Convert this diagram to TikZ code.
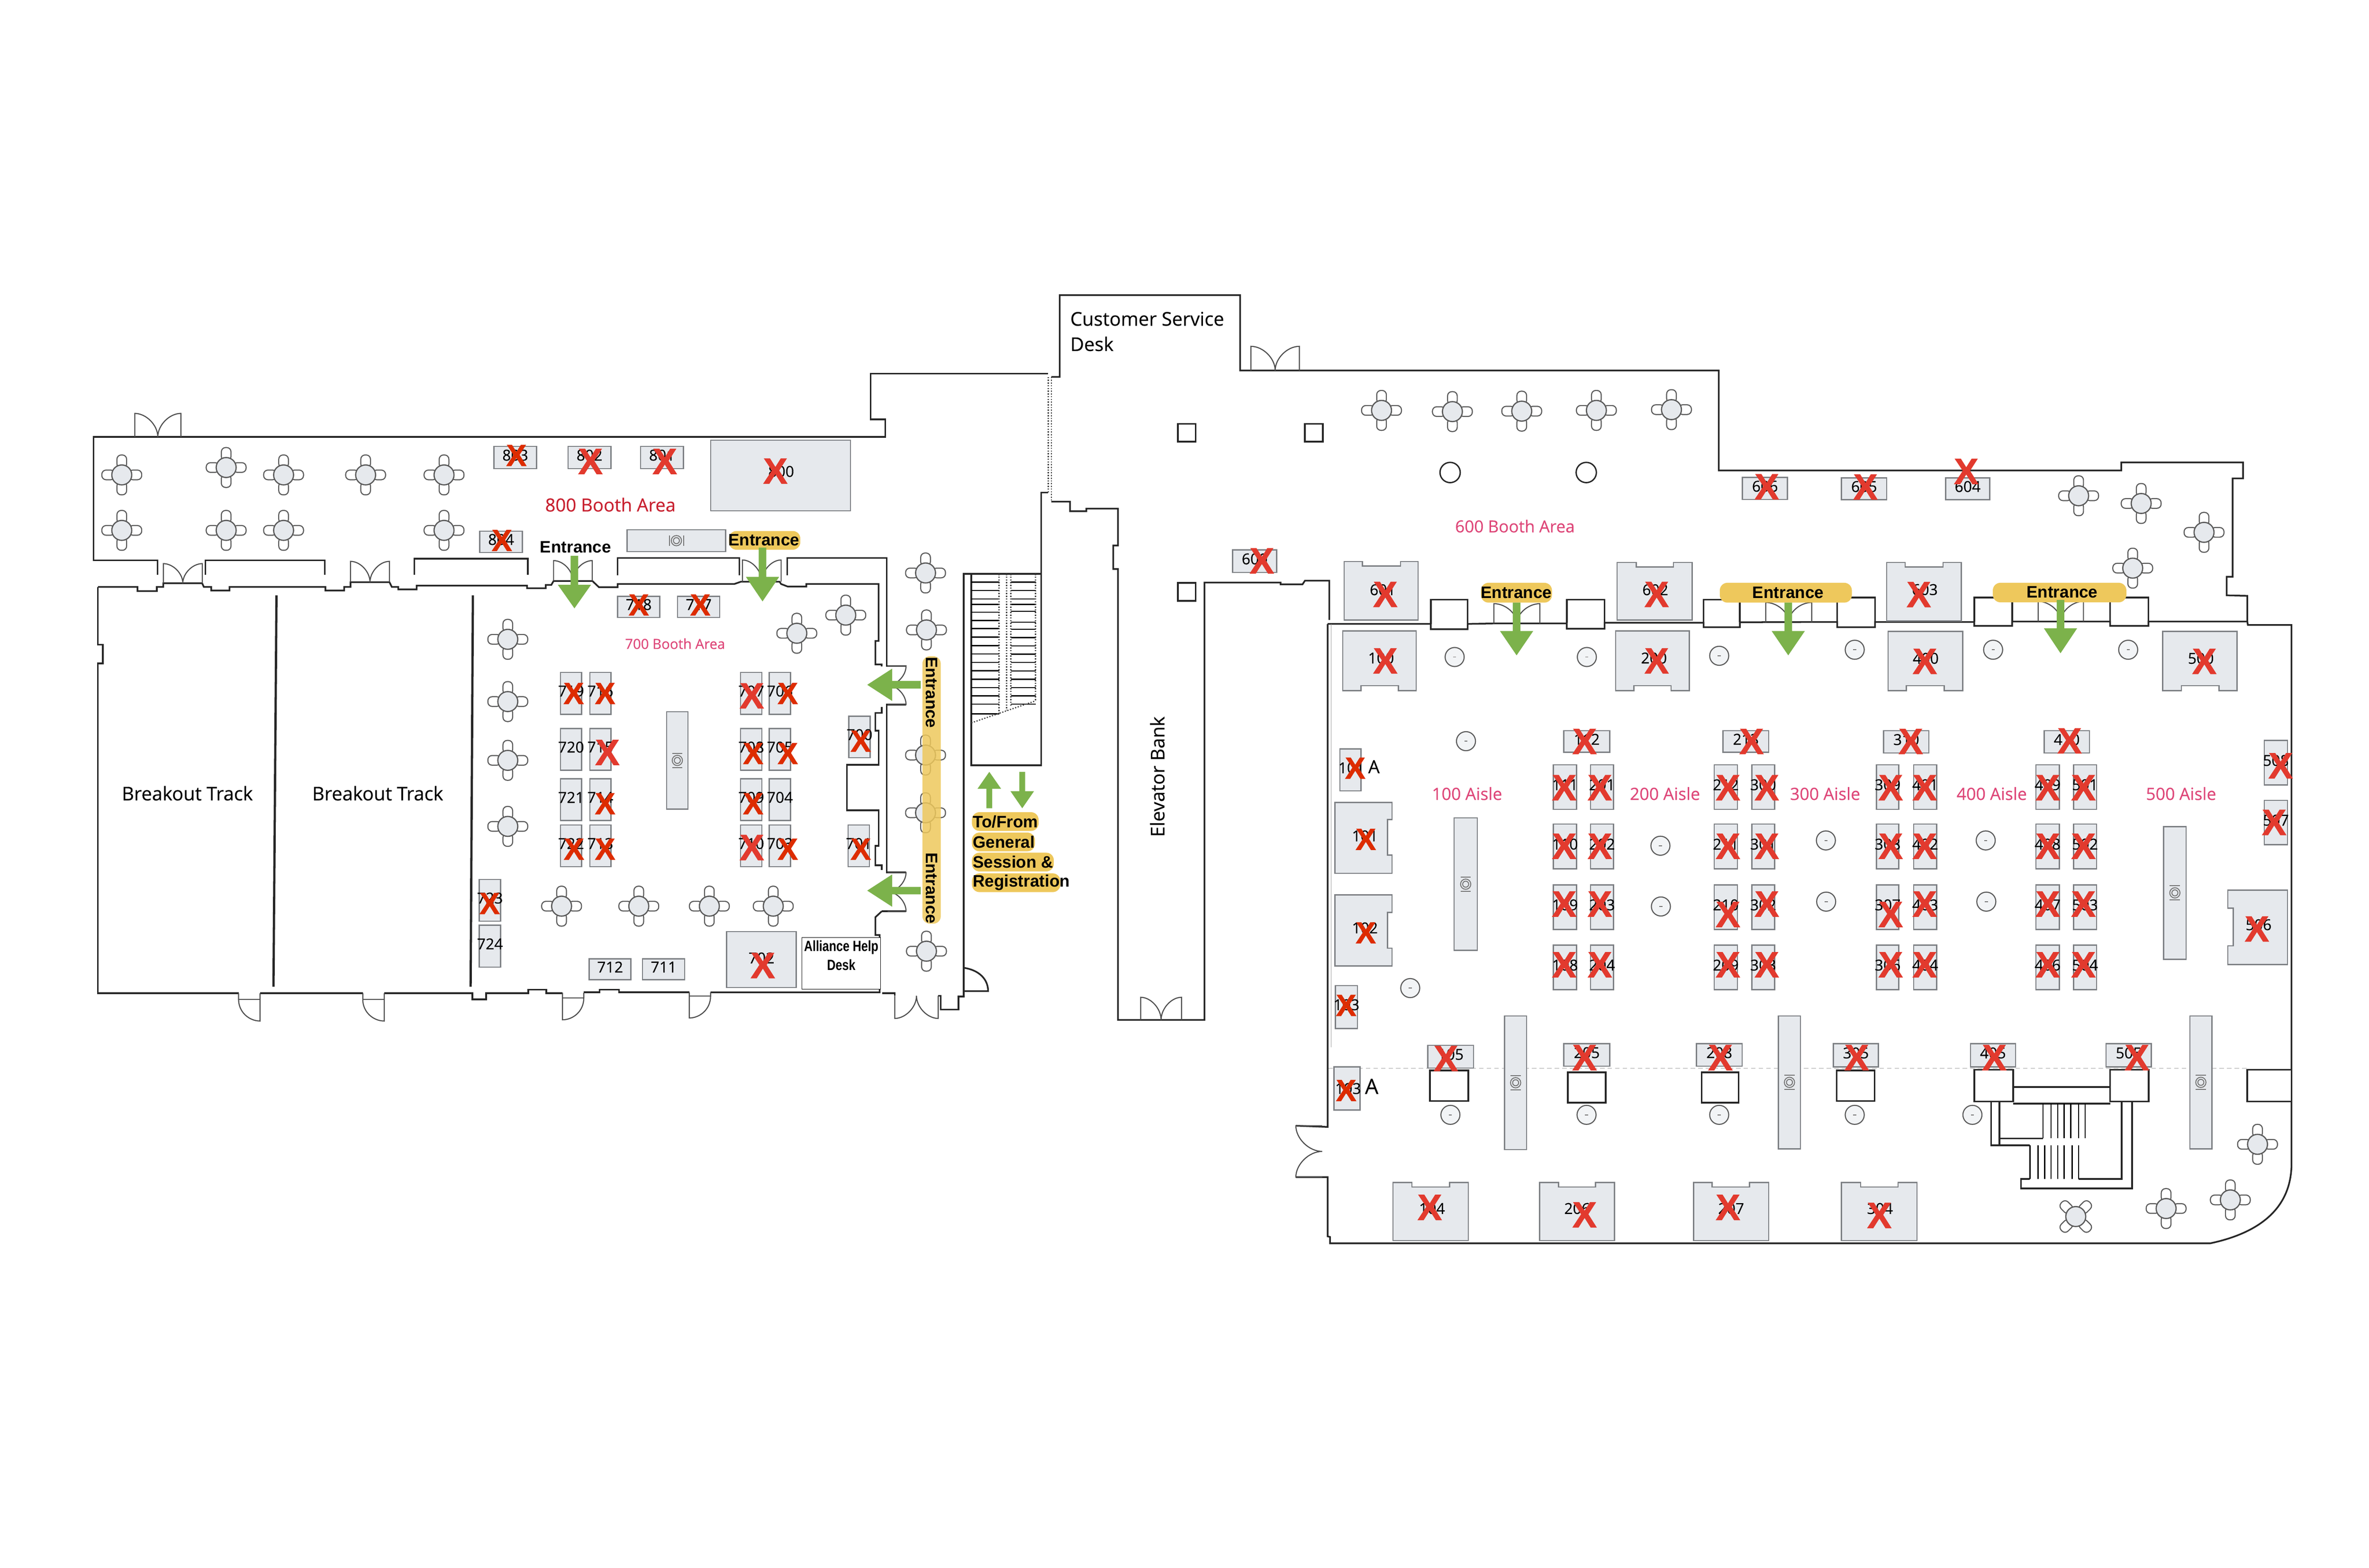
\documentclass[tikz,border=0pt]{standalone}
\usepackage{fontspec}
\setmainfont[FakeBold=0.3]{Open Sans}
\newfontfamily\signfont{Liberation Sans}
\newfontfamily\crossfont[BoldFeatures={FakeBold=1.6}]{Liberation Sans}
\newfontfamily\narrowfont[FakeStretch=0.8]{Liberation Sans}
\definecolor{boothgray}{RGB}{230,233,237}
\definecolor{edgegray}{RGB}{125,128,132}
\definecolor{arrowgreen}{RGB}{124,178,75}
\definecolor{pillyellow}{RGB}{238,200,92}
\definecolor{aislepink}{RGB}{222,70,120}
\definecolor{boothred}{RGB}{200,32,47}
\definecolor{crossred}{RGB}{226,58,46}
\definecolor{crossdark}{RGB}{221,44,0}
\tikzset{
    wallline/.style={draw=black!85, line width=1.1pt},
    thinwall/.style={draw=black!70, line width=0.7pt},
    treadline/.style={draw=black, line width=0.8pt},
    dotline/.style={draw=black!75, line width=0.8pt, densely dotted},
    boothbox/.style={draw=edgegray, fill=boothgray, line width=0.8pt},
    barbox/.style={draw=edgegray, fill=boothgray, line width=0.8pt},
    boothlabel/.style={inner sep=0pt, font=\fontsize{10}{10}\selectfont},
    crosssmall/.style={inner sep=0pt, text=crossdark, font=\crossfont\bfseries\fontsize{20}{20}\selectfont},
    crosslarge/.style={inner sep=0pt, text=crossred, font=\crossfont\bfseries\fontsize{24}{24}\selectfont},
    chairbox/.style={draw=black!65, fill=white, line width=0.7pt, rounded corners=2.8pt},
    tablebox/.style={draw=black!65, fill=boothgray, line width=0.8pt},
    columnbox/.style={draw=black!65, fill=boothgray!50, line width=0.7pt},
    iconline/.style={draw=black!55, line width=0.6pt},
    greenarrow/.style={fill=arrowgreen, draw=none},
    entrancepill/.style={fill=pillyellow, draw=none, rounded corners=5pt},
    signlabel/.style={inner sep=0pt, font=\signfont\bfseries\fontsize{11}{11}\selectfont},
    plainlabel/.style={inner sep=0pt, font=\fontsize{12.5}{12.5}\selectfont},
    aislelabel/.style={inner sep=0pt, text=aislepink, font=\fontsize{11.2}{11.2}\selectfont}
}
% table with four chairs
\newcommand{\tablefour}[3]{%
    \begin{scope}[shift={(#1,#2)}, rotate=#3]
        \foreach \a in {0,90,180,270} {
            \draw[chairbox, rotate=\a] (4.5,-3.2) rectangle (13.2,3.2);
        }
        \draw[tablebox] (0,0) circle (6.6pt);
    \end{scope}}
% plate sign on a buffet bar
\newcommand{\plateicon}[3]{%
    \begin{scope}[shift={(#1,#2)}, rotate=#3]
        \draw[iconline] (-3.4,-4.7) -- (3.4,-4.7) (-3.4,4.7) -- (3.4,4.7);
        \draw[iconline] (0,0) circle (3.4pt) (0,0) circle (2pt);
    \end{scope}}
% x, y of the sill centre, half width, height, turn
\newcommand{\doubledoor}[5]{%
    \draw[thinwall, shift={(#1,#2)}, rotate=#5] (-#3,0) -- (-#3,-#4) .. controls (-0.5*#3,-#4) and (0,-0.5*#4) .. (0,0) .. controls (0,-0.5*#4) and (0.5*#3,-#4) .. (#3,-#4) -- (#3,0);}
% free side x, hinge side x, wall y, sill y, end y
\newcommand{\singledoor}[5]{%
    \draw[thinwall] (#1,#3) -- (#1,#4) .. controls (#1,{#4+0.6*(#5-#4)}) and ({#1+0.5*(#2-#1)},#5) .. (#2,#5) -- (#2,#3);
    \draw[thinwall] (#1,#4) -- (#2,#4);}
\begin{document}
\begin{tikzpicture}[x=1pt, y=-1pt]
    \fill[white] (0,0) rectangle (1568,1037.65);
    \useasboundingbox (0,0) rectangle (1568,1037.65);
    % Dotted axis line
    \draw[draw=black!35, line width=0.4pt, densely dashed] (879,707) -- (1487,707);
    % Walls of the 800 area and lobby
    \draw[wallline] (104.2,380.5) -- (104.2,370.8) -- (62,370.8) -- (62,289.2) -- (586,289.2) -- (586,277.6) -- (576.3,277.6) -- (576.3,247.3) -- (693.8,247.3);
    \draw[wallline] (695.8,249.4) -- (701.4,249.4) -- (701.4,195.3) -- (820.8,195.3) -- (820.8,245.2) -- (1137.6,245.2) -- (1137.6,311.4) -- (1404,311.4) -- (1404,306) -- (1484.6,306) -- (1484.6,316.6) -- (1477.7,316.6) -- (1477.7,381.7) -- (1473.8,381.7) -- (1473.8,394) -- (1487.4,394.3) -- (1487.4,411) -- (1487.8,413.6) -- (1516.7,413.6) -- (1516.7,770) .. controls (1516.7,800) and (1495,816) .. (1463,822.8) -- (880.3,822.8) -- (880.3,818.6) -- (878.7,818.2) -- (878.7,779) -- (857.7,779);
    \draw[wallline] (857.7,745) -- (878.7,745.8) -- (878.7,413);
    \draw[wallline] (136,380.5) -- (136,370.8) -- (215,370.8) -- (215,380.5);
    \draw[wallline] (274.3,380.5) -- (274.3,369.7) -- (349.4,369.7) -- (349.4,380.5);
    \draw[wallline] (408.8,380.7) -- (408.8,369.3) -- (489.3,369.3) -- (489.3,380.7);
    \draw[wallline] (521,380.7) -- (521,369.3) -- (586.9,369.3) -- (586.9,440.7) -- (599.7,440.7);
    \draw[wallline] (599.7,466.3) -- (586.9,466.3) -- (586.9,577.4) -- (599.7,577.4);
    \draw[wallline] (599.7,603.1) -- (583.6,603.1);
    % Walls of the 700 area and breakout rooms
    \draw[wallline] (64.8,388.4) -- (91,388.4) -- (91,391.2) -- (103.8,391.2) -- (103.8,388.4) -- (108.1,388.4) -- (108.1,386) -- (133.8,386) -- (134.9,388.4) -- (139.8,388.4) -- (139.8,390.8) -- (151.9,390.8) -- (151.9,388.4) -- (215.4,388.4) -- (215.4,390.8) -- (227.8,390.8) -- (227.8,388.4) -- (232,388.4) -- (232,385.3) -- (257.8,385.3) -- (259.3,388.4) -- (263.6,388.4) -- (263.6,390.1) -- (275.8,390.1) -- (275.8,387.6) -- (348.8,387.6) -- (348.8,389.3) -- (361.2,389.3) -- (361.2,387.1) -- (364.9,387.1) -- (366.4,384.5) -- (392.1,384.5) -- (396.4,388.6) -- (408.8,388.6) -- (408.8,386.5) -- (486,386.5) -- (490.3,385) -- (516,385) -- (517,386.5) -- (521.4,388.2) -- (533.7,388.2) -- (533.7,386.5) -- (581.5,386.5) -- (581.5,424.2) -- (579.4,424.2) -- (579.4,439.7) -- (583.6,439.7) -- (583.6,441);
    \draw[wallline] (583.6,468) -- (583.6,471.8) -- (579.4,471.8) -- (579.4,483.6) -- (581.5,483.6) -- (581.5,506.2) -- (560.5,506.2) -- (560.5,536.2) -- (581.5,536.2) -- (581.5,559.8) -- (579.4,559.8) -- (579.4,572.7) -- (583.6,572.7) -- (583.6,575.9);
    \draw[wallline] (583.6,603.1) -- (579.4,607) -- (579.4,618.8) -- (582.2,618.8) -- (582.2,656.7) -- (470.3,656.7);
    \draw[wallline] (64.8,388.4) -- (64.8,426.6) -- (68,426.6) -- (68,439) -- (64.8,439) -- (64.8,657.3) -- (157.9,657.3);
    \draw[wallline] (172.1,657.3) -- (240.1,657.3);
    \draw[wallline] (254.3,657.3) -- (312.6,657.3) -- (312.6,661.3) -- (321.7,661.3) -- (321.7,657.3) -- (349.7,657.3) -- (349.7,654.9) -- (361.5,654.9) -- (361.5,657.3) -- (372.3,657.3);
    \draw[wallline] (386.4,656.7) -- (396.8,656.7) -- (396.8,654.9) -- (409.7,654.9) -- (409.7,656.7) -- (456.2,656.7);
    \draw[wallline] (583.9,657.3) -- (592.3,657.3) -- (592.3,659);
    \draw[wallline] (621,659) -- (622.6,659) -- (622.6,668.1) -- (634.4,668.1) -- (634.4,659.5) -- (637.8,659.5) -- (637.8,379.8) -- (689.2,379.8);
    \draw[wallline] (638,640.5) .. controls (648,642) and (654,648) .. (654,655.9) -- (637.8,655.9);
    \draw[wallline, line width=1.5pt] (183,394) -- (181,653) (313,394) -- (311.5,653);
    % Stairs of the corridor
    \draw[wallline] (642.8,379.8) -- (642.8,506.5) -- (689.2,506.5) -- (689.2,326) -- (693.8,326);
    \foreach \y in {385.2,390.8,396.4,400,405.1,410.6,416,421.6,427.3,432.8,438.4,443.9,449.5,455,460.5,466,472.5} {
        \draw[treadline] (642.8,\y) -- (661.3,\y);
    }
    \foreach \y in {385.2,390.8,396.4,400,404.5,411.7,416.5,422,427.5,433,438.4,444,449.5,455,460.5,466} {
        \draw[treadline] (669.1,\y) -- (685.4,\y);
    }
    \draw[dotline] (661.3,379.8) -- (661.3,472.5) (666.3,379.8) -- (666.3,470) (669.1,379.8) -- (669.1,467) (685.4,379.8) -- (685.4,463.8);
    \draw[dotline] (642.9,478.4) -- (685.5,463.8);
    \draw[dotline] (693.8,249.5) -- (693.8,326) (695.8,249.5) -- (695.8,332);
    % Elevator block
    \draw[wallline] (695.8,332) -- (708.2,332) -- (708.2,338.3) -- (719,338.3) -- (719,336.6) -- (740,336.6) -- (740,361) -- (736.8,361) -- (736.8,376.6) -- (740,376.6) -- (740,675) -- (797.2,675) -- (797.2,385.5) -- (847.6,385.5) -- (847.6,386.7) -- (862.1,386.7) -- (863.7,384.3) -- (879.8,384.3) -- (879.8,410.3);
    % Front wall of the main hall
    \draw[wallline] (878.7,412.9) -- (947,412.9) -- (947,416.4) -- (971.4,416.4) -- (971.4,412.9) -- (988.8,412.6) -- (1019.2,412.6) -- (1037,412.6) -- (1037,416.1) -- (1062,416.1) -- (1062,412.1) -- (1127.6,412.1) -- (1127.6,415.1) -- (1151.6,415.1) -- (1151.6,411.8) -- (1216,411.6) -- (1216,415.1) -- (1241,415.1) -- (1241,411.6) -- (1306.7,411.6) -- (1306.7,414.2) -- (1331.8,414.2) -- (1331.8,411.3) -- (1396.6,411.3) -- (1396.6,414.2) -- (1422,414.2) -- (1422,411.3) -- (1487.4,411.3);
    \foreach \xa/\ya/\xb/\yb in {947/396.8/971.4/412.9, 1037/396.8/1062/412.1, 1127.6/396.8/1151.6/411.8, 1216/395.5/1241/411.6, 1306.7/395.5/1331.8/411.3, 1396.6/395.5/1422/411.3} {
        \draw[wallline] (\xa,\yb) -- (\xa,\ya) -- (\xb,\ya) -- (\xb,\yb);
    }
    \draw[draw=black!40, line width=0.5pt] (881,413) -- (881,693);
    % Doors
    \doubledoor{104.45}{289.2}{15.25}{15.6}{0}
    \doubledoor{844}{245.2}{16}{16}{0}
    \doubledoor{121}{386}{12.9}{13}{0}
    \doubledoor{244.9}{385.3}{12.9}{13.8}{0}
    \doubledoor{379.2}{384.5}{12.8}{13.5}{0}
    \doubledoor{504.2}{385}{12.8}{14.4}{0}
    \doubledoor{1004}{412.6}{15.2}{13.1}{0}
    \doubledoor{1183.9}{411.8}{15.2}{13.1}{0}
    \doubledoor{1364}{411.3}{15}{13.3}{0}
    \doubledoor{768.5}{675}{13.5}{15}{0}
    \doubledoor{587.5}{453.5}{12.8}{12.2}{-90}
    \doubledoor{587.5}{590.2}{12.9}{12.2}{-90}
    \doubledoor{875.1}{762}{17}{17.4}{90}
    \doubledoor{606.6}{659}{14.4}{15}{180}
    \singledoor{157.9}{172.1}{657.3}{661.3}{675.7}
    \singledoor{240.1}{254.3}{657.3}{661.3}{675.7}
    \singledoor{386.4}{372.3}{657}{660.5}{674.9}
    \singledoor{470.3}{456.2}{656.7}{659.3}{673.7}
    % Columns
    \foreach \xa/\ya in {779.6/280.5, 863.7/280.5, 779.6/385.8} {
        \draw[wallline] (\xa,\ya) rectangle ({\xa+11.8},{\ya+11.8});
    }
    \foreach \x/\y in {959.8/312.7, 1049.9/312.7} {
        \draw[wallline, line width=0.9pt] (\x,\y) circle (6.7pt);
    }
    \foreach \x/\y in {962.8/434.8, 1050.3/434.8, 1137.9/434, 1227.6/430, 1319.2/430, 1408.6/430, 970.3/490.5, 933.4/653.9, 1099/559.7, 1099.3/599.9, 1208.5/556.2, 1208.7/596.7, 1314.3/556.2, 1314.7/596.7, 960/737.8, 1050.1/737.8, 1137.9/737.8, 1227.6/737.8, 1305.5/737.8} {
        \draw[columnbox] (\x,\y) circle (6.3pt);
        \draw[iconline] ({\x-1},\y) -- ({\x+1},\y);
    }
    % Tables
    \foreach \x/\y in {80.6/314.3, 149.7/309.4, 187.7/314.3, 242/314.3, 293.9/314.3, 80.6/351, 149.7/351, 187.7/351, 293.9/351, 336.1/423.1, 336.1/464.3, 336.1/503.2, 336.1/546.9, 371.7/599.7, 422.8/599.7, 469.5/599.7, 511.8/599.7, 527.4/419.1, 559.8/407.1, 612.6/379.2, 613.2/416.9, 612.6/499.7, 612.6/537.9, 613.2/629.5, 914.4/271.6, 961.3/272.4, 1007.2/272.1, 1056.6/271.6, 1106.3/271.1, 1375.8/328.1, 1417.2/333.2, 1458.8/352.3, 1411.6/376, 1494.2/757.3, 1476.2/794.1, 1433.7/799.8} {
        \tablefour{\x}{\y}{0}
    }
    \tablefour{1373.9}{805.1}{45}
    % Buffet bars
    \foreach \xa/\ya/\xb/\yb/\turn in {441.2/471/455.4/535.5/0, 962.4/541.3/977.8/629/0, 995.9/672.3/1010.4/760.8/0, 1177.1/672.3/1191.7/760.3/0, 1432/547/1447/634.8/0, 1449.4/672.3/1464/760.3/0, 415.1/350.6/480.3/365/90} {
        \draw[barbox] (\xa,\ya) rectangle (\xb,\yb);
        \plateicon{{(\xa+\xb)/2}}{{(\ya+\yb)/2}}{\turn}
    }
    % Plain booths
    \foreach \xa/\ya/\xb/\yb/\lab in {
        326.9/295.4/355.2/310.1/803, 376/295.4/404.3/310.1/802, 424/295.4/452.3/310.1/801, 317.5/351.5/345.8/365.6/804,
        408.8/394.6/436.7/408.6/718, 448.5/394.6/476.4/408.6/717,
        371/445/385/472.7/719, 371/482.1/385/509.8/720, 371/515.4/385/543/721, 371/546/385/573.5/722,
        390.4/445/404.3/472.7/716, 390.4/482.1/404.3/509.8/715, 390.4/515.4/404.3/543/714, 390.4/546/404.3/573.5/713,
        490.1/445/504.3/472.7/707, 490.1/482.1/504.3/509.8/708, 490.1/515.4/504.3/543/709, 490.1/546/504.3/573.5/710,
        509.2/445/523.2/472.7/706, 509.2/482.1/523.2/509.8/705, 509.2/515.4/523.2/543/704, 509.2/546/523.2/573.5/703,
        561.8/474/575.9/501.4/700, 561.3/546/575.5/573.5/701, 317.2/582.1/331.4/609.6/723, 317.2/612.3/331.4/640/724,
        390/634.6/417.6/648.4/712, 425.3/634.6/453.2/648.4/711, 815.9/364/845/378.8/600,
        1153.3/316/1183.1/330.6/606, 1218.8/316.3/1248.8/330.7/605, 1287.7/316.3/1317/330.7/604,
        1035.1/483.6/1065.4/497.9/112, 1140.4/483.6/1170.7/497.9/213, 1246.7/483.6/1276.7/498.3/310, 1353/483.6/1382.9/498.3/410,
        1028.2/506.1/1043.5/535.6/111, 1028.2/545.4/1043.5/574.9/110, 1028.2/585.6/1043.5/615.1/109, 1028.2/625.4/1043.5/655/108,
        1052.7/506.1/1068/535.6/201, 1052.7/545.4/1068/574.9/202, 1052.7/585.6/1068/615.1/203, 1052.7/625.4/1068/655/204,
        1134.6/506.1/1149.9/535.6/212, 1134.6/545.4/1149.9/574.9/211, 1134.6/585.6/1149.9/615.1/210, 1134.6/625.4/1149.9/655/209,
        1159.5/506.1/1174.5/535.6/300, 1159.5/545.4/1174.5/574.9/301, 1159.5/585.6/1174.5/615.1/302, 1159.5/625.4/1174.5/655/303,
        1242/506.1/1256.8/535.6/309, 1242/545.4/1256.8/574.9/308, 1242/585.6/1256.8/615.1/307, 1242/625.4/1256.8/655/306,
        1266.6/506.1/1281.9/535.6/401, 1266.6/545.4/1281.9/574.9/402, 1266.6/585.6/1281.9/615.1/403, 1266.6/625.4/1281.9/655/404,
        1347.5/506.1/1363/535.6/409, 1347.5/545.4/1363/574.9/408, 1347.5/585.6/1363/615.1/407, 1347.5/625.4/1363/655/406,
        1372.4/506.1/1387.6/535.6/501, 1372.4/545.4/1387.6/574.9/502, 1372.4/585.6/1387.6/615.1/503, 1372.4/625.4/1387.6/655/504,
        1498.7/490/1514/519.5/508, 1498.7/529.6/1514/559/507, 883.9/652.3/898.5/680.6/103,
        945/691.8/975.3/706.8/105, 1035.1/690.7/1065.4/705.6/205, 1122.8/690.7/1153.1/705.6/208, 1213.4/690.7/1243.3/706/305, 1304.2/690.7/1334/706/405, 1394/690.7/1423.9/706/505} {
        \draw[boothbox] (\xa,\ya) rectangle (\xb,\yb);
        \node[boothlabel] (b\lab) at ({(\xa+\xb)/2},{(\ya+\yb)/2-1.5}) {\lab};
    }
    \draw[boothbox] (886.9,495.6) rectangle (900.8,523.4);
    \node[boothlabel] (b101A) at (899.5,507.5) {101 {\fontsize{12}{12}\selectfont A}};
    \draw[boothbox] (883,706) rectangle (900.2,734.6);
    \node[boothlabel] (b103A) at (898,719) {103 {\fontsize{14}{14}\selectfont A}};
    \draw[boothbox] (470.4,291.4) rectangle (562.9,338);
    \node[boothlabel] (b800) at (517,312) {800};
    \draw[boothbox] (480.9,616.6) rectangle (527,653.5);
    \node[boothlabel] (b702) at (504,634) {702};
    % Island booths, notch on top
    \foreach \xa/\ya/\xb/\yb/\na/\nb/\lx/\ly/\lab in {889.7/371.6/938.6/410.3/901.7/927/915.2/390.3/601, 1070.3/372.3/1120/410.3/1083/1107.6/1095.6/390.3/602, 1248.8/372.3/1298.2/410.9/1261/1286/1274/390.2/603, 922/782.6/971.8/821/934.5/959.4/947.8/799.8/104, 1019/782.6/1068.6/821/1031.5/1056.1/1043.9/799.8/206, 1120.9/782.6/1170.7/821/1133.1/1158/1145.8/799.8/207, 1218.8/782.6/1268.8/821/1231.5/1256.3/1244.3/799.8/304} {
        \draw[boothbox] (\xa,\ya) -- (\na,\ya) -- (\na,{\ya+3}) -- (\nb,{\ya+3}) -- (\nb,\ya) -- (\xb,\ya) -- (\xb,\yb) -- (\xa,\yb) -- cycle;
        \node[boothlabel] (b\lab) at (\lx,\ly) {\lab};
    }
    % Island booths, notch below
    \foreach \xa/\ya/\xb/\yb/\na/\nb/\lx/\ly/\lab in {888.8/417.6/937.3/457.1/900.8/925.5/914.1/435.5/100, 1069.4/417.6/1118.1/457.1/1081.5/1106/1094.7/435.5/200, 1249.7/417.8/1299/457.1/1261.7/1286.8/1274.6/435.7/400, 1431.4/417.8/1480.7/457.1/1443.8/1468.7/1456.7/435.7/500} {
        \draw[boothbox] (\xa,\ya) -- (\xb,\ya) -- (\xb,\yb) -- (\nb,\yb) -- (\nb,{\yb-3.3}) -- (\na,{\yb-3.3}) -- (\na,\yb) -- (\xa,\yb) -- cycle;
        \node[boothlabel] (b\lab) at (\lx,\ly) {\lab};
    }
    % Island booths, notch at the side
    \foreach \ya/\yb/\na/\nb/\ly/\lab in {531/578/542.4/565.9/553.2/101, 592.3/639.2/603.8/627.5/614.1/102} {
        \draw[boothbox] (883.5,\ya) -- (921.4,\ya) -- (921.4,\na) -- (918.4,\na) -- (918.4,\nb) -- (921.4,\nb) -- (921.4,\yb) -- (883.5,\yb) -- cycle;
        \node[boothlabel] (b\lab) at (903.4,\ly) {\lab};
    }
    \draw[boothbox] (1474.5,589.1) -- (1514,589.1) -- (1514,638.3) -- (1474.5,638.3) -- (1474.5,625.9) -- (1478.1,625.9) -- (1478.1,601) -- (1474.5,601) -- cycle;
    \node[boothlabel] (b506) at (1494.9,612) {506};
    % White piers
    \foreach \xa/\ya/\xb/\yb in {946.5/708.4/971.8/728.6, 1037.7/709.7/1062.8/729.7, 1126.3/709.7/1150.8/729.7, 1215.6/708.4/1240.7/728.6, 1306.7/707.9/1332.5/729, 1396.6/707.9/1422.2/729, 1487.4/707.9/1516.7/729} {
        \draw[wallline, fill=white] (\xa,\ya) rectangle (\xb,\yb);
    }
    % Stairs of the main hall
    \draw[wallline] (1332.5,719.4) -- (1396.6,719.4) (1332.5,730.4) -- (1396.6,730.4);
    \draw[wallline] (1317.9,729) -- (1317.9,758) -- (1343.6,758) (1323.3,729) -- (1323.3,758) (1323.3,753.4) -- (1352.2,753.4);
    \draw[wallline] (1404.3,729) -- (1404.3,780.3) -- (1375.8,780.3) (1411.2,729) -- (1411.2,786.5) -- (1337.6,786.5) -- (1337.6,780.3) -- (1343.6,780.3);
    \foreach \x in {1352.2,1357.6,1361.9,1366.2,1370.5,1375.8,1380.1} {
        \draw[treadline] (\x,730.4) -- (\x,753.4);
    }
    \foreach \x in {1343.6,1349,1353.3,1357.6,1361.9,1366.2,1371.5,1375.8} {
        \draw[treadline] (\x,758) -- (\x,780.3);
    }
    % Help desk
    \draw[draw=black, fill=white, line width=0.5pt] (530.7,620.5) rectangle (582.8,654.6);
    \node[inner sep=0pt, font=\narrowfont\bfseries\fontsize{9.8}{9.8}\selectfont] (helpa) at (556.8,627) {Alliance Help};
    \node[inner sep=0pt, font=\narrowfont\bfseries\fontsize{9.8}{9.8}\selectfont] (helpb) at (556.8,638.5) {Desk};
    % Entrance pills
    \fill[entrancepill] (482.5,351.4) rectangle (529.7,363.8);
    \fill[entrancepill, opacity=0.85] (610.5,434.3) rectangle (622.7,611.3);
    \fill[entrancepill] (980.2,385.7) rectangle (1027.2,398.8);
    \fill[entrancepill] (1138.3,385.7) rectangle (1225.7,398.8);
    \fill[entrancepill] (1319,385.7) rectangle (1407.4,398.6);
    \foreach \ya/\xb in {537.5/687.4, 551/685, 564.3/697.5, 578/701.8} {
        \fill[entrancepill] (643.3,\ya) rectangle (\xb,{\ya+12.4});
    }
    % Entrance arrows
    \foreach \x/\ya/\yb/\yc in {380.2/367.8/387/402.6, 504.7/362.4/381.8/398, 1003.8/398.8/417.6/433.7, 1183.6/398.8/417.6/433.7, 1363.8/397/415.8/432.3} {
        \fill[greenarrow] ({\x-2.5},\ya) -- ({\x+2.5},\ya) -- ({\x+2.5},\yb) -- ({\x+11},\yb) -- (\x,\yc) -- ({\x-11},\yb) -- ({\x-2.5},\yb) -- cycle;
    }
    \foreach \y in {453.2, 589.4} {
        \fill[greenarrow] (609.4,{\y-2.5}) -- (609.4,{\y+2.5}) -- (590.5,{\y+2.5}) -- (590.5,{\y+10.7}) -- (574,\y) -- (590.5,{\y-10.7}) -- (590.5,{\y-2.5}) -- cycle;
    }
    \fill[greenarrow] (654.8,510.8) -- (662.6,522) -- (656.7,522) -- (656.7,534.9) -- (652.9,534.9) -- (652.9,522) -- (647,522) -- cycle;
    \fill[greenarrow] (674.7,510.8) -- (678.5,510.8) -- (678.5,523.6) -- (684.4,523.6) -- (676.6,534.9) -- (668.8,523.6) -- (674.7,523.6) -- cycle;
    % Signs
    \node[signlabel] (enta) at (381,362) {Entrance};
    \node[signlabel] (entb) at (505.6,357.5) {Entrance};
    \node[signlabel, rotate=-90] (entc) at (616.5,458.3) {Entrance};
    \node[signlabel, rotate=-90] (entd) at (616.5,587.7) {Entrance};
    \node[signlabel] (ente) at (1003.6,392.2) {Entrance};
    \node[signlabel] (entf) at (1183.5,392.2) {Entrance};
    \node[signlabel] (entg) at (1364.9,391.9) {Entrance};
    \foreach \y/\tx [count=\n] in {543.7/To\slash From, 557.2/General, 570.5/Session \&, 584.2/Registration} {
        \node[signlabel, anchor=west] (gen\n) at (643.7,\y) {\tx};
    }
    % Room names
    \node[plainlabel] (rooma) at (124,525) {Breakout Track};
    \node[plainlabel] (roomb) at (250,525) {Breakout Track};
    \node[plainlabel, anchor=west] (deska) at (708.2,211) {Customer Service};
    \node[plainlabel, anchor=west] (deskb) at (708.2,227.6) {Desk};
    \node[plainlabel, rotate=90] (bank) at (766,514) {Elevator Bank};
    \node[inner sep=0pt, text=boothred, font=\fontsize{12}{12}\selectfont] (areaa) at (404,334) {800 Booth Area};
    \node[inner sep=0pt, text=aislepink, font=\fontsize{9.2}{9.2}\selectfont] (areab) at (446.8,426) {700 Booth Area};
    \node[inner sep=0pt, text=aislepink, font=\fontsize{11}{11}\selectfont] (areac) at (1002.7,348.2) {600 Booth Area};
    \foreach \x/\lab in {971/100, 1102/200, 1208/300, 1318.3/400, 1443.6/500} {
        \node[aislelabel] (aisle\lab) at (\x,525.2) {\lab{} Aisle};
    }
    % Crosses
    \foreach \x/\y/\lab in {341.8/301.4/803, 332.2/357.7/804, 422.8/400.4/718, 463.5/400.4/717, 379.7/459/719, 400.5/459/716, 521.4/459/706, 498.5/498.7/708, 521.4/498.7/705, 400.5/531.9/714, 498.5/531.9/709, 379.9/562/722, 400.5/562/713, 521.4/562/703, 569.7/490.5/700, 569.7/562/701, 324.1/598/723, 897/508.4/101A, 904/555.5/101, 904/617.4/102, 891/665.4/103, 891/721.7/103A} {
        \node[crosssmall] (x\lab) at (\x,\y) {X};
    }
    \foreach \x/\y/\lab in {390.8/305.4/802, 440/305.4/801, 513.2/311.8/800, 497.6/460.5/707, 402/498/715, 497.6/560.9/710, 504.9/639/702, 835.2/371.2/600,
        1169.4/322.2/606, 1234.7/322.3/605, 1301.4/312/604, 916.9/393.4/601, 1096.5/393.4/602, 1270/393.5/603, 916.9/437.4/100, 1096.5/437.4/200, 1274/437.7/400, 1459/437.7/500,
        1048.8/490.7/112, 1159.3/490.7/213, 1264.7/490.7/310, 1369.8/490.3/410, 1509.5/506.8/508, 1505.2/544.3/507, 1493.8/614.8/506,
        1035.3/521.3/111, 1035.3/560.1/110, 1035.3/598.3/109, 1035.3/638.5/108, 1058.9/521.3/201, 1058.9/560.1/202, 1058.9/598.3/203, 1058.9/638.5/204,
        1143.7/521.3/212, 1143.7/560.1/211, 1143.7/605.2/210, 1143.7/638.5/209, 1169.4/521.3/300, 1169.4/560.1/301, 1169.4/598.3/302, 1169.4/638.5/303,
        1251.4/521.3/309, 1251.4/560.1/308, 1251.4/605.2/307, 1251.4/638.5/306, 1273.9/521.3/401, 1273.9/560.1/402, 1273.9/598.3/403, 1273.9/638.5/404,
        1355.4/521.3/409, 1355.4/560.1/408, 1355.4/598.3/407, 1355.4/638.5/406, 1379/521.3/501, 1379/560.1/502, 1379/598.3/503, 1379/638.5/504,
        957/700.5/105, 1048.8/699.9/205, 1138.7/699.9/208, 1228.9/699.9/305, 1320/699.9/405, 1414.4/699.9/505,
        946.3/799.1/104, 1048.8/804/206, 1143.7/799.1/207, 1243.9/804.4/304} {
        \node[crosslarge] (x\lab) at (\x,\y) {X};
    }
\end{tikzpicture}
\end{document}
